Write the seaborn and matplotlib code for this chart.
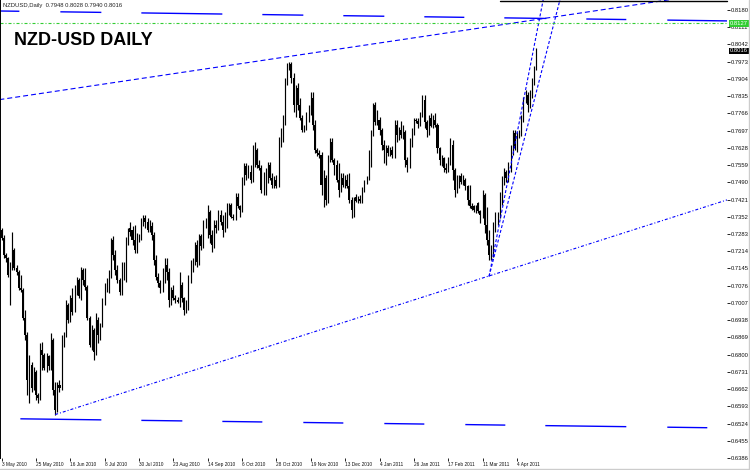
import numpy as np
import pandas as pd
import matplotlib
matplotlib.use("Agg")
import matplotlib.pyplot as plt
import matplotlib.transforms as mtransforms
from matplotlib.lines import Line2D
import seaborn as sns

sns.set_theme(style="white")
plt.rcParams["font.family"] = ["Liberation Sans", "DejaVu Sans"]
plt.rcParams["lines.scale_dashes"] = False

DPI = 100

# ── daily candles, NZDUSD, 3 May 2010 → 15 Apr 2011 ──
OPEN = [
    0.7300, 0.7268, 0.7200, 0.7188, 0.7120, 0.7156, 0.7220, 0.7148, 0.7132, 0.7068,
    0.7060, 0.6948, 0.6880, 0.6700, 0.6760, 0.6668, 0.6732, 0.6640, 0.6628, 0.6820,
    0.6800, 0.6748, 0.6796, 0.6756, 0.6860, 0.6660, 0.6580, 0.6680, 0.6668, 0.6860,
    0.6880, 0.7000, 0.6940, 0.7028, 0.6980, 0.7060, 0.7100, 0.7036, 0.7140, 0.7100,
    0.7072, 0.6948, 0.6840, 0.6900, 0.6812, 0.6940, 0.6880, 0.6920, 0.7008, 0.7068,
    0.7092, 0.7120, 0.7260, 0.7200, 0.7140, 0.7100, 0.7052, 0.7120, 0.7148, 0.7260,
    0.7308, 0.7300, 0.7260, 0.7220, 0.7268, 0.7276, 0.7332, 0.7348, 0.7332, 0.7300,
    0.7316, 0.7280, 0.7180, 0.7112, 0.7088, 0.7068, 0.7120, 0.7160, 0.7132, 0.7020,
    0.7060, 0.7028, 0.7020, 0.7012, 0.7080, 0.7028, 0.6980, 0.7000, 0.7100, 0.7148,
    0.7172, 0.7240, 0.7172, 0.7276, 0.7236, 0.7320, 0.7332, 0.7372, 0.7280, 0.7240,
    0.7320, 0.7308, 0.7360, 0.7332, 0.7300, 0.7348, 0.7388, 0.7400, 0.7352, 0.7348,
    0.7432, 0.7396, 0.7380, 0.7492, 0.7556, 0.7520, 0.7532, 0.7500, 0.7612, 0.7620,
    0.7560, 0.7548, 0.7460, 0.7500, 0.7532, 0.7560, 0.7508, 0.7480, 0.7500, 0.7476,
    0.7640, 0.7660, 0.7740, 0.7892, 0.7948, 0.7964, 0.7908, 0.7800, 0.7868, 0.7800,
    0.7748, 0.7700, 0.7712, 0.7748, 0.7780, 0.7828, 0.7720, 0.7620, 0.7608, 0.7600,
    0.7480, 0.7508, 0.7420, 0.7580, 0.7652, 0.7580, 0.7560, 0.7500, 0.7460, 0.7508,
    0.7480, 0.7500, 0.7476, 0.7420, 0.7380, 0.7432, 0.7416, 0.7424, 0.7416, 0.7460,
    0.7492, 0.7508, 0.7612, 0.7688, 0.7800, 0.7732, 0.7740, 0.7700, 0.7640, 0.7620,
    0.7628, 0.7608, 0.7620, 0.7600, 0.7720, 0.7680, 0.7700, 0.7680, 0.7692, 0.7580,
    0.7560, 0.7660, 0.7692, 0.7740, 0.7736, 0.7724, 0.7760, 0.7820, 0.7732, 0.7700,
    0.7748, 0.7716, 0.7740, 0.7720, 0.7628, 0.7580, 0.7588, 0.7548, 0.7540, 0.7572,
    0.7640, 0.7540, 0.7460, 0.7500, 0.7516, 0.7492, 0.7500, 0.7476, 0.7420, 0.7396,
    0.7396, 0.7380, 0.7408, 0.7376, 0.7360, 0.7440, 0.7320, 0.7260, 0.7200, 0.7220,
    0.7308, 0.7340, 0.7360, 0.7420, 0.7500, 0.7532, 0.7508, 0.7548, 0.7620, 0.7688,
    0.7628, 0.7680, 0.7688, 0.7748, 0.7820, 0.7840, 0.7800, 0.7840, 0.7892, 0.7948,
]
HIGH = [
    0.7308, 0.7280, 0.7208, 0.7192, 0.7172, 0.7292, 0.7228, 0.7160, 0.7140, 0.7120,
    0.7068, 0.6980, 0.6892, 0.6800, 0.6772, 0.6752, 0.6740, 0.6648, 0.6848, 0.6852,
    0.6808, 0.6808, 0.6800, 0.6888, 0.6868, 0.6692, 0.6692, 0.6700, 0.6880, 0.6892,
    0.7020, 0.7008, 0.7040, 0.7068, 0.7080, 0.7112, 0.7108, 0.7152, 0.7148, 0.7148,
    0.7080, 0.6956, 0.6920, 0.6908, 0.6968, 0.6952, 0.6928, 0.7028, 0.7088, 0.7108,
    0.7140, 0.7268, 0.7276, 0.7220, 0.7160, 0.7108, 0.7172, 0.7172, 0.7272, 0.7308,
    0.7332, 0.7316, 0.7320, 0.7288, 0.7284, 0.7348, 0.7360, 0.7360, 0.7348, 0.7340,
    0.7332, 0.7292, 0.7200, 0.7128, 0.7100, 0.7148, 0.7188, 0.7188, 0.7148, 0.7072,
    0.7080, 0.7040, 0.7032, 0.7132, 0.7092, 0.7032, 0.7020, 0.7120, 0.7180, 0.7188,
    0.7252, 0.7260, 0.7284, 0.7284, 0.7340, 0.7348, 0.7400, 0.7380, 0.7300, 0.7340,
    0.7340, 0.7380, 0.7380, 0.7360, 0.7372, 0.7408, 0.7408, 0.7408, 0.7364, 0.7448,
    0.7448, 0.7400, 0.7512, 0.7568, 0.7568, 0.7560, 0.7560, 0.7640, 0.7652, 0.7628,
    0.7580, 0.7560, 0.7532, 0.7548, 0.7572, 0.7572, 0.7528, 0.7516, 0.7520, 0.7672,
    0.7708, 0.7760, 0.7908, 0.7968, 0.7972, 0.7972, 0.7928, 0.7880, 0.7888, 0.7828,
    0.7760, 0.7720, 0.7772, 0.7800, 0.7852, 0.7852, 0.7740, 0.7628, 0.7620, 0.7612,
    0.7540, 0.7520, 0.7600, 0.7668, 0.7668, 0.7588, 0.7580, 0.7568, 0.7528, 0.7528,
    0.7520, 0.7524, 0.7528, 0.7432, 0.7432, 0.7444, 0.7436, 0.7440, 0.7472, 0.7500,
    0.7516, 0.7620, 0.7700, 0.7808, 0.7812, 0.7780, 0.7752, 0.7708, 0.7660, 0.7640,
    0.7640, 0.7632, 0.7636, 0.7740, 0.7740, 0.7712, 0.7736, 0.7720, 0.7700, 0.7592,
    0.7668, 0.7708, 0.7748, 0.7748, 0.7748, 0.7772, 0.7840, 0.7840, 0.7740, 0.7760,
    0.7768, 0.7760, 0.7768, 0.7728, 0.7632, 0.7600, 0.7592, 0.7568, 0.7592, 0.7668,
    0.7660, 0.7548, 0.7520, 0.7520, 0.7528, 0.7520, 0.7508, 0.7480, 0.7480, 0.7408,
    0.7400, 0.7400, 0.7412, 0.7380, 0.7460, 0.7448, 0.7392, 0.7300, 0.7240, 0.7332,
    0.7372, 0.7372, 0.7452, 0.7516, 0.7548, 0.7540, 0.7572, 0.7640, 0.7700, 0.7700,
    0.7692, 0.7700, 0.7760, 0.7832, 0.7860, 0.7852, 0.7860, 0.7908, 0.7956, 0.8028,
]
LOW = [
    0.7260, 0.7188, 0.7172, 0.7112, 0.7000, 0.7140, 0.7140, 0.7120, 0.7060, 0.7052,
    0.6940, 0.6860, 0.6640, 0.6608, 0.6652, 0.6660, 0.6620, 0.6608, 0.6620, 0.6740,
    0.6740, 0.6732, 0.6740, 0.6740, 0.6640, 0.6560, 0.6572, 0.6652, 0.6660, 0.6832,
    0.6872, 0.6928, 0.6932, 0.6960, 0.6972, 0.7040, 0.7028, 0.7020, 0.7080, 0.7060,
    0.6940, 0.6832, 0.6820, 0.6780, 0.6800, 0.6848, 0.6860, 0.6912, 0.7000, 0.7052,
    0.7048, 0.7108, 0.7180, 0.7120, 0.7088, 0.7040, 0.7040, 0.7100, 0.7092, 0.7240,
    0.7276, 0.7240, 0.7208, 0.7208, 0.7252, 0.7260, 0.7316, 0.7308, 0.7292, 0.7292,
    0.7260, 0.7160, 0.7100, 0.7072, 0.7048, 0.7052, 0.7088, 0.7100, 0.6992, 0.7000,
    0.7020, 0.7008, 0.7008, 0.6992, 0.7012, 0.6960, 0.6968, 0.6980, 0.7088, 0.7132,
    0.7160, 0.7152, 0.7160, 0.7220, 0.7228, 0.7308, 0.7268, 0.7248, 0.7212, 0.7228,
    0.7288, 0.7300, 0.7320, 0.7272, 0.7292, 0.7308, 0.7360, 0.7348, 0.7340, 0.7340,
    0.7388, 0.7352, 0.7372, 0.7480, 0.7500, 0.7508, 0.7488, 0.7492, 0.7552, 0.7548,
    0.7540, 0.7448, 0.7440, 0.7440, 0.7488, 0.7500, 0.7468, 0.7468, 0.7468, 0.7472,
    0.7632, 0.7652, 0.7720, 0.7880, 0.7940, 0.7888, 0.7772, 0.7752, 0.7780, 0.7740,
    0.7692, 0.7692, 0.7700, 0.7732, 0.7760, 0.7700, 0.7608, 0.7596, 0.7588, 0.7440,
    0.7392, 0.7400, 0.7408, 0.7572, 0.7572, 0.7520, 0.7492, 0.7432, 0.7452, 0.7472,
    0.7468, 0.7468, 0.7408, 0.7348, 0.7352, 0.7412, 0.7408, 0.7408, 0.7408, 0.7452,
    0.7484, 0.7500, 0.7552, 0.7676, 0.7720, 0.7720, 0.7680, 0.7620, 0.7568, 0.7560,
    0.7596, 0.7596, 0.7588, 0.7588, 0.7652, 0.7660, 0.7668, 0.7664, 0.7552, 0.7532,
    0.7548, 0.7632, 0.7680, 0.7728, 0.7708, 0.7716, 0.7752, 0.7708, 0.7672, 0.7680,
    0.7712, 0.7708, 0.7712, 0.7608, 0.7560, 0.7556, 0.7532, 0.7528, 0.7532, 0.7560,
    0.7500, 0.7432, 0.7448, 0.7468, 0.7484, 0.7480, 0.7460, 0.7400, 0.7388, 0.7380,
    0.7372, 0.7368, 0.7368, 0.7328, 0.7348, 0.7288, 0.7240, 0.7180, 0.7180, 0.7192,
    0.7292, 0.7320, 0.7348, 0.7400, 0.7480, 0.7492, 0.7492, 0.7532, 0.7600, 0.7620,
    0.7612, 0.7668, 0.7676, 0.7732, 0.7808, 0.7772, 0.7788, 0.7828, 0.7880, 0.7940,
]
CLOSE = [
    0.7268, 0.7200, 0.7188, 0.7120, 0.7156, 0.7220, 0.7148, 0.7132, 0.7068, 0.7060,
    0.6948, 0.6880, 0.6700, 0.6772, 0.6668, 0.6740, 0.6640, 0.6628, 0.6820, 0.6800,
    0.6748, 0.6796, 0.6756, 0.6860, 0.6660, 0.6580, 0.6680, 0.6668, 0.6860, 0.6880,
    0.7000, 0.6940, 0.7028, 0.6972, 0.7060, 0.7100, 0.7036, 0.7140, 0.7100, 0.7072,
    0.6948, 0.6840, 0.6900, 0.6812, 0.6940, 0.6880, 0.6920, 0.7008, 0.7068, 0.7092,
    0.7120, 0.7260, 0.7200, 0.7140, 0.7100, 0.7052, 0.7120, 0.7148, 0.7260, 0.7300,
    0.7292, 0.7260, 0.7220, 0.7268, 0.7276, 0.7332, 0.7348, 0.7332, 0.7300, 0.7316,
    0.7280, 0.7180, 0.7112, 0.7088, 0.7068, 0.7120, 0.7160, 0.7132, 0.7020, 0.7060,
    0.7028, 0.7020, 0.7012, 0.7080, 0.7028, 0.6980, 0.7000, 0.7100, 0.7148, 0.7172,
    0.7240, 0.7172, 0.7276, 0.7236, 0.7320, 0.7332, 0.7372, 0.7280, 0.7240, 0.7320,
    0.7308, 0.7360, 0.7332, 0.7300, 0.7348, 0.7388, 0.7400, 0.7352, 0.7348, 0.7432,
    0.7396, 0.7380, 0.7492, 0.7556, 0.7520, 0.7532, 0.7500, 0.7612, 0.7620, 0.7560,
    0.7548, 0.7460, 0.7500, 0.7532, 0.7560, 0.7508, 0.7480, 0.7500, 0.7476, 0.7640,
    0.7660, 0.7740, 0.7892, 0.7948, 0.7964, 0.7908, 0.7800, 0.7868, 0.7800, 0.7748,
    0.7700, 0.7712, 0.7748, 0.7780, 0.7828, 0.7720, 0.7620, 0.7608, 0.7600, 0.7480,
    0.7508, 0.7420, 0.7580, 0.7652, 0.7580, 0.7560, 0.7500, 0.7460, 0.7508, 0.7480,
    0.7500, 0.7476, 0.7420, 0.7380, 0.7432, 0.7416, 0.7424, 0.7416, 0.7460, 0.7492,
    0.7508, 0.7612, 0.7688, 0.7800, 0.7732, 0.7740, 0.7700, 0.7640, 0.7620, 0.7628,
    0.7608, 0.7620, 0.7600, 0.7720, 0.7680, 0.7700, 0.7680, 0.7692, 0.7580, 0.7560,
    0.7660, 0.7692, 0.7740, 0.7736, 0.7724, 0.7760, 0.7820, 0.7732, 0.7700, 0.7748,
    0.7716, 0.7740, 0.7720, 0.7628, 0.7580, 0.7588, 0.7548, 0.7540, 0.7572, 0.7640,
    0.7540, 0.7460, 0.7500, 0.7516, 0.7492, 0.7500, 0.7476, 0.7420, 0.7396, 0.7384,
    0.7380, 0.7392, 0.7376, 0.7360, 0.7440, 0.7320, 0.7260, 0.7200, 0.7220, 0.7308,
    0.7340, 0.7360, 0.7420, 0.7500, 0.7532, 0.7508, 0.7548, 0.7620, 0.7688, 0.7628,
    0.7680, 0.7688, 0.7748, 0.7820, 0.7840, 0.7800, 0.7840, 0.7892, 0.7948, 0.8016,
]

# time scale labels (bar index → text)
DATE_BARS = [0, 16, 32, 48, 64, 80, 96, 112, 128, 144, 160, 176, 192, 208, 224, 240]
DATE_LABELS = ["3 May 2010", "25 May 2010", "16 Jun 2010", "8 Jul 2010", "30 Jul 2010",
               "23 Aug 2010", "14 Sep 2010", "6 Oct 2010", "28 Oct 2010", "19 Nov 2010",
               "13 Dec 2010", "4 Jan 2011", "26 Jan 2011", "17 Feb 2011", "11 Mar 2011",
               "4 Apr 2011"]

# price scale labels
PRICE_TICKS = [0.8180, 0.8111, 0.8042, 0.7973, 0.7904, 0.7835, 0.7766, 0.7697, 0.7628,
               0.7559, 0.7490, 0.7421, 0.7352, 0.7283, 0.7214, 0.7145, 0.7076, 0.7007,
               0.6938, 0.6869, 0.6800, 0.6731, 0.6662, 0.6593, 0.6524, 0.6455, 0.6386]

# drawn objects: (bars, prices)
RESIST_BARS, RESIST_PRICES = [-1, 311], [0.7821, 0.8221]
SUPPORT_BARS, SUPPORT_PRICES = [25, 338], [0.6560, 0.7420]
STEEP_L_BARS, STEEP_L_PRICES = [227, 252.2], [0.7113, 0.8220]
STEEP_R_BARS, STEEP_R_PRICES = [227, 260], [0.7113, 0.8220]
TOPCH_BARS, TOPCH_PRICES = [-1, 340], [0.8176, 0.8136]
BOTCH_BARS, BOTCH_PRICES = [-1, 340], [0.6544, 0.6506]
ASK_PRICE = 0.8127


def px(seq):
    """pixel lengths → points"""
    return tuple(v * 72 / DPI for v in seq)


df = pd.DataFrame({"open": OPEN, "high": HIGH, "low": LOW, "close": CLOSE})
df["bar"] = np.arange(len(df))
bear = df[df["close"] < df["open"]]

fig = plt.figure(figsize=(7.5, 4.7), dpi=DPI)
ax = fig.add_axes([0, 12 / 470, 727 / 750, 458 / 470])
ax.set_facecolor("white")

# candles: wick line for every bar, filled body for bearish bars
ax.vlines(df["bar"], df["low"], df["high"], color="black", lw=0.85)
ax.bar(bear["bar"], bear["open"] - bear["close"], bottom=bear["close"],
       width=0.95, color="black", linewidth=0)

BLUE = "#0000ff"
sns.lineplot(x=RESIST_BARS, y=RESIST_PRICES, ax=ax, color=BLUE, lw=0.8,
             linestyle=(0, px([5, 3])))
sns.lineplot(x=SUPPORT_BARS, y=SUPPORT_PRICES, ax=ax, color=BLUE, lw=0.8,
             linestyle=(0, px([3, 2, 1, 2])))
sns.lineplot(x=STEEP_L_BARS, y=STEEP_L_PRICES, ax=ax, color=BLUE, lw=0.8,
             linestyle=(0, px([3, 2])))
sns.lineplot(x=STEEP_R_BARS, y=STEEP_R_PRICES, ax=ax, color=BLUE, lw=0.8,
             linestyle=(0, px([3, 2])))

top_dash = [20, 41, 41, 40, 81, 40, 41, 40, 41, 40, 40, 40, 42, 40, 40, 41, 62, 100]
bot_dash = [81, 40, 41, 40, 40, 41, 40, 41, 40, 41, 40, 40, 81, 41, 40, 61]
ax.plot(TOPCH_BARS, TOPCH_PRICES, color=BLUE, lw=1.0, linestyle=(0, px(top_dash)))
ax.plot(BOTCH_BARS, BOTCH_PRICES, color=BLUE, lw=1.0,
        linestyle=(727 * 72 / DPI, px(bot_dash)))

ax.axhline(ASK_PRICE, color="#32cd32", lw=0.8, linestyle=(0, px([3, 2, 1, 2])))

ax.set_xlim(-0.7, 337.8)
ax.set_ylim(0.6388, 0.8220)

# price scale on the right
ax.yaxis.tick_right()
ax.set_yticks(PRICE_TICKS)
ax.set_yticklabels([f"{v:.4f}" for v in PRICE_TICKS])
ax.tick_params(axis="y", direction="out", length=2.2, width=0.6, pad=0.8,
               labelsize=4.2, color="black", labelcolor="#111111", right=True, left=False)

# time scale
ax.set_xticks(DATE_BARS)
ax.set_xticklabels(DATE_LABELS)
ax.tick_params(axis="x", direction="out", length=2, width=0.6, pad=0.6,
               labelsize=3.4, color="black", labelcolor="#111111", bottom=True)
for lbl in ax.get_xticklabels():
    lbl.set_ha("left")
ax.set_xlabel("")
ax.set_ylabel("")

for side in ["top", "right", "bottom"]:
    ax.spines[side].set_visible(False)
ax.spines["left"].set_color("black")
ax.spines["left"].set_linewidth(1.4)

# partial frame line along the top edge
fig.add_artist(Line2D([500 / 750, 727 / 750], [1 - 0.7 / 470, 1 - 0.7 / 470],
                      color="black", lw=1.0, transform=fig.transFigure))

# highlighted price labels
trans = mtransforms.blended_transform_factory(ax.transAxes, ax.transData)
ax.text(1.004, ASK_PRICE, f"{ASK_PRICE:.4f}", transform=trans, fontsize=4.2,
        color="white", va="center", ha="left",
        bbox=dict(boxstyle="square,pad=0.15", fc="#32cd32", ec="none"))
ax.text(1.004, CLOSE[-1], f"{CLOSE[-1]:.4f}", transform=trans, fontsize=4.2,
        color="white", va="center", ha="left",
        bbox=dict(boxstyle="square,pad=0.15", fc="black", ec="none"))

# header line and title
fig.text(3 / 750, 1 - 5 / 470,
         f"NZDUSD,Daily  {OPEN[-1]:.4f} {HIGH[-1]:.4f} {LOW[-1]:.4f} {CLOSE[-1]:.4f}",
         fontsize=4.2, color="#222222", va="center", ha="left")
fig.text(14 / 750, 1 - 45 / 470, "NZD-USD DAILY", fontsize=13, fontweight="bold",
         color="black", va="baseline", ha="left")

# window border
fig.add_artist(Line2D([0, 1], [0.6 / 470, 0.6 / 470], color="#cccccc", lw=1,
                      transform=fig.transFigure))
fig.add_artist(Line2D([749.4 / 750, 749.4 / 750], [0, 1], color="#cccccc", lw=1,
                      transform=fig.transFigure))

fig.savefig("out.png", dpi=DPI)
